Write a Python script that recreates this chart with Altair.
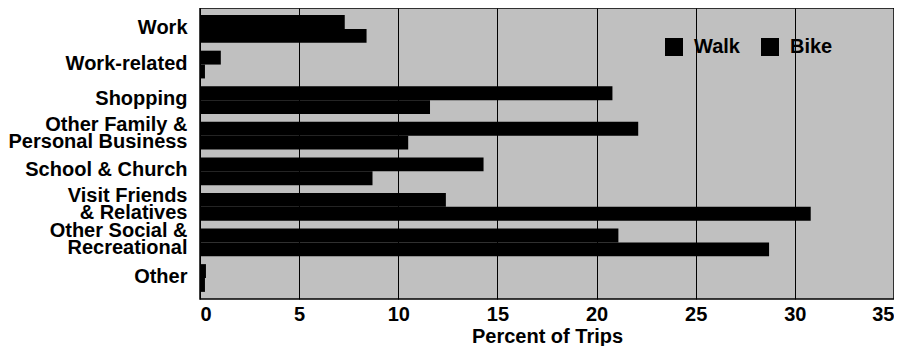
import altair as alt
import pandas as pd

categories = [
    "Work",
    "Work-related",
    "Shopping",
    "Other Family &|Personal Business",
    "School & Church",
    "Visit Friends|& Relatives",
    "Other Social &|Recreational",
    "Other",
]
walk = [7.3, 1.05, 20.8, 22.1, 14.3, 12.4, 21.1, 0.3]
bike = [8.4, 0.25, 11.6, 10.5, 8.7, 30.8, 28.7, 0.25]
modes = ["Walk", "Bike"]
x_ticks = [0, 5, 10, 15, 20, 25, 30, 35]

rows = []
for c, w, b in zip(categories, walk, bike):
    rows.append({"Purpose": c, "Mode": "Walk", "Percent": w})
    rows.append({"Purpose": c, "Mode": "Bike", "Percent": b})
df = pd.DataFrame(rows)

FONT = "Liberation Sans"

chart = (
    alt.Chart(df)
    .mark_bar()
    .encode(
        y=alt.Y(
            "Purpose:N",
            sort=categories,
            scale=alt.Scale(paddingInner=0.22, paddingOuter=0.2),
            axis=alt.Axis(
                title=None,
                labelExpr="split(datum.label, '|')",
                labelFont=FONT,
                labelFontSize=20,
                labelFontWeight="bold",
                labelColor="black",
                labelLineHeight=17,
                labelPadding=13,
                labelOffset={
                    "condition": {"test": "indexof(datum.value, '|') >= 0", "value": -11},
                    "value": -1,
                },
                ticks=False,
                domain=False,
                labelLimit=400,
            ),
        ),
        yOffset=alt.YOffset("Mode:N", sort=modes, scale=alt.Scale(paddingInner=0, paddingOuter=0)),
        x=alt.X(
            "Percent:Q",
            scale=alt.Scale(domain=[0, 35], nice=False),
            axis=alt.Axis(
                title="Percent of Trips",
                values=x_ticks,
                format="d",
                labelFont=FONT,
                labelFontSize=20,
                labelFontWeight="bold",
                labelColor="black",
                labelPadding=5,
                ticks=False,
                domain=False,
                grid=True,
                gridColor="black",
                gridWidth=1,
                gridOpacity=1,
                titleFont=FONT,
                titleFontSize=20,
                titleFontWeight="bold",
                titleColor="black",
                titlePadding=2,
            ),
        ),
        color=alt.Color(
            "Mode:N",
            sort=modes,
            scale=alt.Scale(domain=modes, range=["#000000", "#000000"]),
            legend=alt.Legend(
                title=None,
                orient="none",
                legendX=464,
                legendY=29,
                direction="horizontal",
                symbolType="square",
                symbolSize=324,
                symbolStrokeWidth=0,
                symbolOpacity=1,
                labelFont=FONT,
                labelFontSize=20,
                labelFontWeight="bold",
                labelColor="black",
                labelOffset=10,
                columnPadding=20,
            ),
        ),
    )
    .properties(
        width=694,
        height=291,
        background="white",
        padding={"left": 0, "top": 0, "right": 0, "bottom": 0},
    )
    .configure_view(fill="#c0c0c0", fillOpacity=1, stroke="black", strokeWidth=1.5)
)

chart.save("out.html", embed_options={"renderer": "svg", "actions": False})
